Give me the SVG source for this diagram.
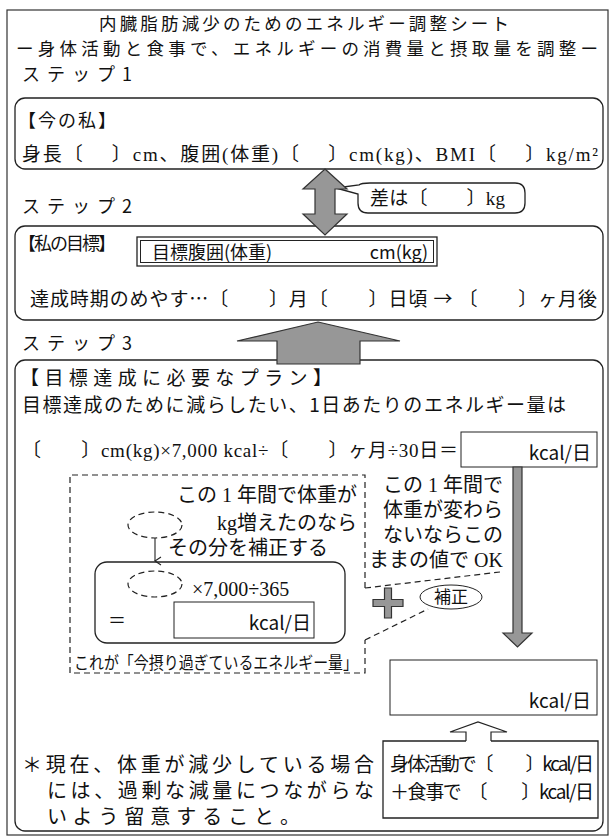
<svg xmlns="http://www.w3.org/2000/svg" width="612" height="838" viewBox="0 0 612 838">
<defs>
<style>
.frame{fill:none;stroke:#333;stroke-width:1.2}
.box{fill:#fff;stroke:#222;stroke-width:1.3}
.thin{fill:#fff;stroke:#222;stroke-width:1}
.dash{fill:none;stroke:#222;stroke-width:1.2;stroke-dasharray:6 4}
.gray{fill:#979797;stroke:#333;stroke-width:1.2}
.sans{font-family:"Noto Sans CJK JP","Liberation Sans",sans-serif;fill:#111}
.serif{font-family:"Liberation Serif","Noto Sans CJK JP",serif;fill:#111}
</style>
<marker id="vhead" markerWidth="10" markerHeight="10" refX="5" refY="9" orient="auto-start-reverse" viewBox="0 0 10 10" markerUnits="userSpaceOnUse">
<path d="M1,3 L5,9 L9,3" fill="none" stroke="#222" stroke-width="1.1"/>
</marker>
</defs>
<rect width="612" height="838" fill="#fff"/>
<rect class="frame" x="7" y="10" width="601" height="825"/>

<g id="title">
<text class="sans" x="304" y="30" font-size="17.5" text-anchor="middle" textLength="410">内臓脂肪減少のためのエネルギー調整シート</text>
<text class="sans" x="16" y="55" font-size="17.5" textLength="582">ー身体活動と食事で、エネルギーの消費量と摂取量を調整ー</text>
</g>

<g id="step1">
<text class="sans" x="22" y="81" font-size="18" textLength="110">ステップ1</text>
<rect class="box" x="15" y="98" width="588" height="71" rx="10"/>
<text class="sans" x="18" y="127" font-size="18" textLength="98">【今の私】</text>
<text class="serif" x="22" y="161" font-size="19" textLength="576">身長〔　 〕cm、腹囲(体重)〔　 〕cm(kg)、BMI〔　 〕kg/m²</text>
</g>

<g id="diff-callout">
<path class="box" d="M370,183 H515 Q525,183 525,193 V203 Q525,213 515,213 H368 Q358,213 358,203 V194 L336,188 L359,185 Q361,183 370,183 Z"/>
<text class="serif" x="370" y="205" font-size="19" textLength="135">差は〔　　〕kg</text>
</g>

<g id="step2">
<text class="sans" x="22" y="213" font-size="18" textLength="110">ステップ2</text>
<rect class="box" x="15" y="226" width="588" height="94" rx="10"/>
<text class="sans" x="18" y="250" font-size="18" textLength="98">【私の目標】</text>
<rect class="box" x="137" y="237" width="300" height="29" stroke-width="1.6"/>
<rect class="thin" x="140.5" y="240.5" width="293" height="22"/>
<text class="sans" x="152" y="259" font-size="18">目標腹囲(体重)</text>
<text class="sans" x="428" y="259" font-size="18" text-anchor="end">cm(kg)</text>
<text class="sans" x="30" y="306" font-size="19" textLength="567">達成時期のめやす…〔　　〕月〔　　〕日頃 → 〔　　〕ヶ月後</text>
</g>

<g id="step3">
<text class="sans" x="22" y="350" font-size="18" textLength="110">ステップ3</text>
<rect class="box" x="15" y="360" width="588" height="471" rx="10"/>
<text class="sans" x="20" y="385" font-size="19" textLength="312">【目標達成に必要なプラン】</text>
<text class="sans" x="22" y="412" font-size="19" textLength="544">目標達成のために減らしたい、1日あたりのエネルギー量は</text>
<text class="serif" x="22" y="457" font-size="19" textLength="436">〔　　〕cm(kg)×7,000 kcal÷〔　　〕ヶ月÷30日＝</text>
</g>

<g id="kcal-top">
<rect class="thin" x="461" y="432" width="136" height="35"/>
<text class="sans" x="591" y="460" font-size="19" text-anchor="end">kcal/日</text>
</g>

<g id="correction-note">
<path class="dash" d="M365,588 V475 H70 V673 H365 V640"/>
<text class="serif" x="357" y="502" font-size="20" text-anchor="end">この 1 年間で体重が</text>
<text class="serif" x="357" y="530" font-size="20" text-anchor="end">kg増えたのなら</text>
<text class="serif" x="168" y="555" font-size="20">その分を補正する</text>
<ellipse class="dash" cx="155" cy="525" rx="27" ry="13" stroke-dasharray="5 3"/>
<rect class="box" x="95" y="562" width="250" height="81" rx="12"/>
<ellipse class="dash" cx="155" cy="584" rx="27" ry="13" stroke-dasharray="5 3"/>
<text class="serif" x="192" y="596" font-size="20">×7,000÷365</text>
<text class="serif" x="108" y="627" font-size="18">＝</text>
<rect class="thin" x="174" y="602" width="140" height="36"/>
<text class="sans" x="311" y="630" font-size="19" text-anchor="end">kcal/日</text>
<text class="serif" x="74" y="669" font-size="17" textLength="284" lengthAdjust="spacingAndGlyphs">これが「今摂り過ぎているエネルギー量」</text>
</g>

<g id="no-change-note">
<text class="serif" x="503" y="492" font-size="20" text-anchor="end">この 1 年間で</text>
<text class="serif" x="503" y="517" font-size="20" text-anchor="end">体重が変わら</text>
<text class="serif" x="503" y="542" font-size="20" text-anchor="end">ないならこの</text>
<text class="serif" x="503" y="567" font-size="20" text-anchor="end">ままの値で OK</text>
</g>

<g id="plus">
<path class="gray" d="M384.5,588 H391.5 V599.5 H403 V606.5 H391.5 V618 H384.5 V606.5 H373 V599.5 H384.5 Z"/>
</g>

<g id="hosei">
<ellipse class="thin" cx="451" cy="597" rx="31" ry="12"/>
<text class="serif" x="451" y="603" font-size="17" text-anchor="middle">補正</text>
</g>

<g id="kcal-bottom">
<rect class="thin" x="390" y="660" width="207" height="55"/>
<text class="sans" x="591" y="708" font-size="19" text-anchor="end">kcal/日</text>
</g>

<g id="activity-box">
<path class="box" d="M466,741 H383 V818 H598 V741 H491" fill="none"/>
<text class="sans" x="390" y="771" font-size="19" textLength="204">身体活動で〔　　〕kcal/日</text>
<text class="sans" x="390" y="799" font-size="19" textLength="204">＋食事で　〔　　〕kcal/日</text>
</g>

<g id="caution">
<text class="serif" x="22" y="772" font-size="20" textLength="352">＊現在、体重が減少している場合</text>
<text class="serif" x="47" y="798" font-size="20" textLength="327">には、過剰な減量につながらな</text>
<text class="serif" x="47" y="824" font-size="20" textLength="253">いよう留意すること。</text>
</g>

<g id="connectors">
<path class="gray" d="M325,169 L347,189 L335,189 L335,214 L347,214 L325,235 L303,214 L315,214 L315,189 L303,189 Z"/>
<path class="gray" d="M318,322 L400,341 L360,341 L360,364 L277,364 L277,341 L237,341 Z"/>
<path class="gray" d="M513,467 V633 H503 L517.5,647 L532,633 H522 V467 Z"/>
<line x1="155" y1="538" x2="155" y2="561" stroke="#222" stroke-width="1.1" marker-end="url(#vhead)"/>
<path class="dash" d="M365,588 L500,572"/>
<path class="dash" d="M365,640 L428,609"/>
<path d="M466,741 V732 H450 L478,722 L507,732 H491 V741" fill="#fff" stroke="#222" stroke-width="1.2"/>
</g>
</svg>
